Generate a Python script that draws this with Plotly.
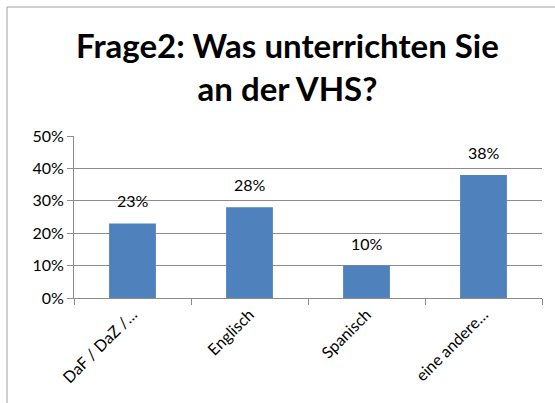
import plotly.graph_objects as go

categories = ["DaF / DaZ /…", "Englisch", "Spanisch", "eine andere…"]
values = [0.23, 0.28, 0.10, 0.38]
value_labels = ["23%", "28%", "10%", "38%"]
y_ticks = [0, 0.1, 0.2, 0.3, 0.4, 0.5]
y_tick_labels = ["0%", "10%", "20%", "30%", "40%", "50%"]
title_text = "Frage2: Was unterrichten Sie<br>an der VHS?"

FONT = "Lato"
GRID = "#8c8c8c"

fig = go.Figure(go.Bar(
    x=categories, y=values,
    marker=dict(color="#4F81BD", line=dict(width=0)),
    cliponaxis=False, hoverinfo="x+y",
))

for c, v, t in zip(categories, values, value_labels):
    fig.add_annotation(x=c, y=v, text=t, showarrow=False, yanchor="bottom",
                       yshift=11, font=dict(family=FONT, size=16, color="black"))

L, R, T, B = 74, 13, 136, 105
W, H = 555, 403
pw, ph = W - L - R, H - T - B

fig.update_layout(
    width=W, height=H,
    margin=dict(l=L, r=R, t=T, b=B, autoexpand=False),
    paper_bgcolor="white", plot_bgcolor="white",
    bargap=0.6,
    showlegend=False,
    font=dict(family=FONT, size=16, color="black"),
    title=dict(text=title_text, x=0.518, xanchor="center", y=0.855, yanchor="middle",
               font=dict(family=FONT, size=33, color="black", weight="bold")),
    xaxis=dict(
        tickangle=-45, showgrid=False, showline=True, linecolor=GRID, linewidth=1,
        ticks="outside", ticklen=6, tickcolor=GRID, tickson="boundaries",
        tickfont=dict(family=FONT, size=16, color="black"), automargin=False,
    ),
    yaxis=dict(
        range=[0, 0.5], tickvals=y_ticks, ticktext=y_tick_labels,
        showgrid=True, gridcolor=GRID, gridwidth=1,
        showline=True, linecolor=GRID, linewidth=1,
        ticks="outside", ticklen=6, tickcolor=GRID,
        tickfont=dict(family=FONT, size=16, color="black"),
        zeroline=False, automargin=False,
    ),
    shapes=[dict(
        type="rect", xref="paper", yref="paper",
        x0=(7 - L) / pw, x1=(W + 20 - L) / pw,
        y0=-(B + 20) / ph, y1=1 + (T - 7) / ph,
        line=dict(color="#a0a0a0", width=1), layer="below",
    )],
)

fig.write_html("out.html", config={"displayModeBar": False},
               post_script="document.body.style.margin='0';document.body.style.overflow='hidden';")
